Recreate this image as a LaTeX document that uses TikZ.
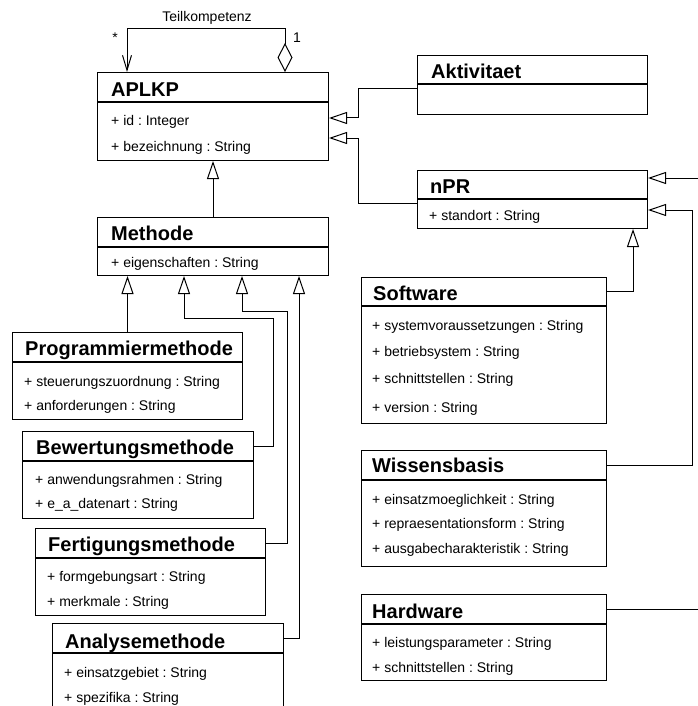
\documentclass[tikz,border=0pt]{standalone}
\usepackage{fontspec}
\setmainfont{Liberation Sans}
\usetikzlibrary{arrows.meta}
\frenchspacing

\tikzset{
  head/.style={draw, anchor=north west, inner sep=0pt, minimum height=29pt, line width=1pt},
  body/.style={draw, anchor=north west, inner sep=0pt, line width=1pt},
  ttl/.style={anchor=base west, inner sep=0pt, font=\fontsize{20pt}{24pt}\selectfont\bfseries},
  attr/.style={anchor=base west, inner sep=0pt, font=\fontsize{14pt}{16pt}\selectfont},
  lbl/.style={inner sep=0pt, font=\fontsize{14pt}{16pt}\selectfont},
  gen/.style={-{Triangle[open, length=18pt, width=12pt]}, line width=1pt},
}

\begin{document}
\begin{tikzpicture}[x=1pt, y=-1pt]
    \useasboundingbox (0,0) rectangle (697,706);

    % Draw classes, left column
    \node[head, minimum width=231pt] (aplkp) at (97,72) {};
    \node[body, minimum width=231pt, minimum height=58pt] (aplkp-b) at (aplkp.south west) {};
    \node[ttl] (aplkp-t) at (111,97) {APLKP};
    \node[attr] (aplkp-1) at (111,125) {+ id : Integer};
    \node[attr] (aplkp-2) at (111,151) {+ bezeichnung : String};

    \node[head, minimum width=231pt] (methode) at (97,217) {};
    \node[body, minimum width=231pt, minimum height=28pt] (methode-b) at (methode.south west) {};
    \node[ttl] (methode-t) at (111,240) {Methode};
    \node[attr] (methode-1) at (111,267) {+ eigenschaften : String};

    \node[head, minimum width=230pt] (prog) at (12,332) {};
    \node[body, minimum width=230pt, minimum height=57pt] (prog-b) at (prog.south west) {};
    \node[ttl] (prog-t) at (25,355) {Programmiermethode};
    \node[attr] (prog-1) at (24,386) {+ steuerungszuordnung : String};
    \node[attr] (prog-2) at (24,410) {+ anforderungen : String};

    \node[head, minimum width=231pt] (bew) at (22,431) {};
    \node[body, minimum width=231pt, minimum height=57pt] (bew-b) at (bew.south west) {};
    \node[ttl] (bew-t) at (36,454) {Bewertungsmethode};
    \node[attr] (bew-1) at (35,484) {+ anwendungsrahmen : String};
    \node[attr] (bew-2) at (35,508) {+ e\_a\_datenart : String};

    \node[head, minimum width=230pt] (fert) at (35,528) {};
    \node[body, minimum width=230pt, minimum height=57pt] (fert-b) at (fert.south west) {};
    \node[ttl] (fert-t) at (48,551) {Fertigungsmethode};
    \node[attr] (fert-1) at (47,581) {+ formgebungsart : String};
    \node[attr] (fert-2) at (47,606) {+ merkmale : String};

    \node[head, minimum width=231pt] (ana) at (52,623) {};
    \node[body, minimum width=231pt, minimum height=90pt] (ana-b) at (ana.south west) {};
    \node[ttl] (ana-t) at (65,648) {Analysemethode};
    \node[attr] (ana-1) at (64,677) {+ einsatzgebiet : String};
    \node[attr] (ana-2) at (64,702) {+ spezifika : String};

    % Draw classes, right column
    \node[head, minimum width=230pt, minimum height=28pt] (akt) at (417,55) {};
    \node[body, minimum width=230pt, minimum height=30pt] (akt-b) at (akt.south west) {};
    \node[ttl] (akt-t) at (431,79) {Aktivitaet};

    \node[head, minimum width=230pt, minimum height=28pt] (npr) at (417,170) {};
    \node[body, minimum width=230pt, minimum height=29pt] (npr-b) at (npr.south west) {};
    \node[ttl] (npr-t) at (430,193) {nPR};
    \node[attr] (npr-1) at (429,220) {+ standort : String};

    \node[head, minimum width=245pt, minimum height=28pt] (sw) at (361,277) {};
    \node[body, minimum width=245pt, minimum height=117pt] (sw-b) at (sw.south west) {};
    \node[ttl] (sw-t) at (373,300) {Software};
    \node[attr] (sw-1) at (372,330) {+ systemvoraussetzungen : String};
    \node[attr] (sw-2) at (372,356) {+ betriebsystem : String};
    \node[attr] (sw-3) at (372,383) {+ schnittstellen : String};
    \node[attr] (sw-4) at (372,412) {+ version : String};

    \node[head, minimum width=245pt] (wb) at (361,450) {};
    \node[body, minimum width=245pt, minimum height=86pt] (wb-b) at (wb.south west) {};
    \node[ttl] (wb-t) at (372,472) {Wissensbasis};
    \node[attr] (wb-1) at (372,504) {+ einsatzmoeglichkeit : String};
    \node[attr] (wb-2) at (372,528) {+ repraesentationsform : String};
    \node[attr] (wb-3) at (372,553) {+ ausgabecharakteristik : String};

    \node[head, minimum width=245pt] (hw) at (361,594) {};
    \node[body, minimum width=245pt, minimum height=56pt] (hw-b) at (hw.south west) {};
    \node[ttl] (hw-t) at (372,618) {Hardware};
    \node[attr] (hw-1) at (372,647) {+ leistungsparameter : String};
    \node[attr] (hw-2) at (372,672) {+ schnittstellen : String};

    % Free ends at the right border
    \coordinate (npr-in) at ([xshift=55pt, yshift=-8pt]npr.north east);
    \coordinate (hw-out) at ([xshift=95pt]hw.east);

    % Draw connections
    \draw[line width=1pt, {Diamond[open, length=29pt, width=15pt]}-{Straight Barb[length=15pt, width=9pt]}]
        ([xshift=188pt]aplkp.north west) |- (127,29) -- ([xshift=30pt]aplkp.north west);
    \node[lbl] (teil) at (207,18) {Teilkompetenz};
    \node[lbl] (mult-a) at (115,38) {*};
    \node[lbl] (mult-b) at (297,38) {1};

    \draw[gen] (methode.north) -- (aplkp-b.south);
    \draw[gen] (prog.north) -- (prog.north |- methode-b.south);
    \draw[gen] (bew.east) -| (273,318) -| ([xshift=87pt]methode-b.south west);
    \draw[gen] (fert.east) -| (287,311) -| ([xshift=145pt]methode-b.south west);
    \draw[gen] (ana.east) -| ([xshift=202pt]methode-b.south west);

    \draw[gen] ([yshift=-5pt]akt-b.north west) -| ([xshift=29pt, yshift=-16pt]aplkp-b.north east)
        -- ([yshift=-16pt]aplkp-b.north east);
    \draw[gen] ([yshift=-4pt]npr-b.north west) -| ([xshift=29pt, yshift=-36pt]aplkp-b.north east)
        -- ([yshift=-36pt]aplkp-b.north east);

    \draw[gen] (npr-in) -- ([yshift=-8pt]npr.north east);
    \draw[gen] (sw.east) -| ([xshift=-15pt]npr-b.south east);
    \draw[gen] (wb.east) -| ([xshift=44pt, yshift=-11pt]npr-b.north east)
        -- ([yshift=-11pt]npr-b.north east);
    \draw[line width=1pt] (hw.east) -- (hw-out);
\end{tikzpicture}
\end{document}
